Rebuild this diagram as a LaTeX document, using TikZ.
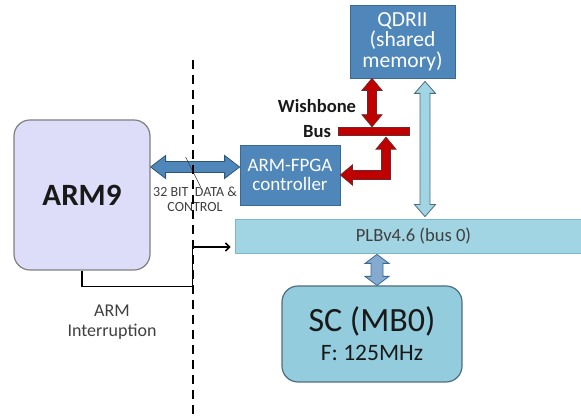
\documentclass[tikz,border=0pt]{standalone}
\usepackage{fontspec}
\setmainfont{Carlito}
\usetikzlibrary{calc,arrows.meta}
\definecolor{steel}{HTML}{4F87BA}
\definecolor{steeldark}{HTML}{3A6A94}
\definecolor{aqua}{HTML}{93CDDD}
\definecolor{aquadark}{HTML}{4E6D7C}
\definecolor{plbfill}{HTML}{A2D5E3}
\definecolor{plbdraw}{HTML}{7CB8CA}
\definecolor{lavender}{HTML}{DEDDF9}
\definecolor{wbred}{HTML}{C00000}
\definecolor{wbdark}{HTML}{6E2A2A}
\definecolor{txtgray}{HTML}{404040}
\tikzset{
    box/.style={
        draw=steeldark, fill=steel, text=white, line width=0.8pt,
        align=center, inner sep=0pt
    },
    armbox/.style={
        draw=gray, fill=lavender, line width=1.2pt, rounded corners=16pt,
        minimum width=136pt, minimum height=150pt,
        font=\fontsize{31}{33}\selectfont\bfseries, text=black!90
    },
    scbox/.style={
        draw=aquadark, fill=aqua, line width=1.2pt, rounded corners=16pt,
        minimum width=180pt, minimum height=96pt, align=center,
        text=black!90
    },
    plbbox/.style={
        draw=plbdraw, fill=plbfill, line width=0.8pt,
        minimum width=357pt, minimum height=34pt,
        font=\fontsize{18.6}{20}\selectfont, text=txtgray
    },
    wbbar/.style={
        draw=wbdark, fill=wbred, line width=0.5pt,
        minimum width=71pt, minimum height=8pt, inner sep=0pt
    },
    label/.style={
        align=center, text=txtgray
    },
    fatarrow/.style={
        line width=0.8pt, line join=miter
    },
    divider/.style={
        line width=2.5pt, dash pattern=on 9pt off 6pt
    },
    irqline/.style={
        line width=1.6pt, -{Straight Barb[length=4pt, width=8pt]}
    }
}
% fat double arrows: style, from, to, head length, head half width, shaft half width
\newcommand{\vfatarrow}[6]{%
    \filldraw [fatarrow, #1] (#2) -- ++(#5,-#4) -- ++(-#5+#6,0) -- ($(#3)+(#6,#4)$)
        -- ++(#5-#6,0) -- (#3) -- ++(-#5,#4) -- ++(#5-#6,0) -- ($(#2)+(-#6,-#4)$)
        -- ++(-#5+#6,0) -- cycle;
}
\newcommand{\hfatarrow}[6]{%
    \filldraw [fatarrow, #1] (#2) -- ++(#4,#5) -- ++(0,-#5+#6) -- ($(#3)+(-#4,#6)$)
        -- ++(0,#5-#6) -- (#3) -- ++(-#4,-#5) -- ++(0,#5-#6) -- ($(#2)+(#4,-#6)$)
        -- ++(0,-#5+#6) -- cycle;
}

\begin{document}
\begin{tikzpicture}[x=1pt, y=1pt]
    \useasboundingbox (0,0) rectangle (581,419);
    % Boxes:
    \node (arm) [armbox] at (82,224) {ARM9};
    \node (ctrl) [box, minimum width=100pt, minimum height=60pt,
        font=\fontsize{19}{18.5}\selectfont] at (290,244) {ARM-FPGA\\controller};
    \node (qdr) [box, minimum width=105pt, minimum height=73pt,
        font=\fontsize{21.5}{20.5}\selectfont] at (402.5,377.5) {QDRII\\(shared\\memory)};
    \node (plb) [plbbox] at (413.5,183) {PLBv4.6 (bus 0)};
    \node (sc) [scbox] at (372,85) {\fontsize{34}{30}\selectfont SC (MB0)\\[8pt]
        \fontsize{23.5}{24}\selectfont F: 125MHz};
    \node (wb) [wbbar] at (373.5,288) {};
    \node (wblabel) [align=center, font=\fontsize{18.6}{25}\selectfont\bfseries,
        text=black!90] at (317,300) {Wishbone\\Bus};
    % ARM9 <-> ARM-FPGA controller:
    \hfatarrow{draw=steeldark!80!black, fill=steel}{$(arm.east)+(0,28)$}{$(ctrl.west)+(0,8)$}{15}{11.5}{5.5}
    \draw [line width=0.6pt, txtgray] ($(arm.east)+(35,38)$) coordinate (slashtop)
        -- ($(arm.east)+(50,8)$) coordinate (slashbot);
    \node (buslabel) [label, font=\fontsize{14}{15.5}\selectfont] at (195,219.5)
        {32 BIT\ \ DATA \&\\CONTROL};
    % Wishbone bus:
    \vfatarrow{draw=wbdark, fill=wbred}{$(qdr.south)+(-30.5,0)$}{$(wb.north)+(-1.5,0)$}{12}{10}{4.5}
    \coordinate (wbup) at ($(wb.south)+(12.5,-2)$);
    \coordinate (wbturn) at (wbup |- ctrl.east);
    \filldraw [fatarrow, draw=wbdark, fill=wbred] (wbup) -- ++(10,-12) -- ++(-5.5,0)
        -- ($(wbturn)+(4.5,-4.5)$) -- ($(ctrl.east)+(12,-4.5)$) -- ++(0,-5.5) -- (ctrl.east)
        -- ++(12,10) -- ++(0,-5.5) -- ($(wbturn)+(-4.5,4.5)$) -- ($(wbup)+(-4.5,-12)$)
        -- ++(-5.5,0) -- cycle;
    % QDRII <-> PLB:
    \vfatarrow{draw=aquadark, fill=plbfill}{$(qdr.south)+(22.5,-3)$}{$(plb.north)+(11.5,2)$}{12}{10.5}{5}
    % PLB <-> SC:
    \coordinate (scup) at ($(sc.north)+(5,0)$);
    \vfatarrow{draw=steeldark, fill=steel!70!white}{$(scup |- plb.south)+(0,-1)$}{scup}{9}{12}{6}
    % Interruption:
    \coordinate (irqin) at ($(plb.west)+(-4,-11)$);
    \draw [irqline] (arm.south) -- ++(0,-16) -| ($(irqin)+(-38,0)$) -- (irqin);
    \node (irqlabel) [label, font=\fontsize{18}{20}\selectfont] at (112,97) {ARM\\Interruption};
    % Divider:
    \coordinate (divtop) at (193,359);
    \coordinate (divbot) at (193,0);
    \draw [divider] (divtop) -- (divbot);
\end{tikzpicture}
\end{document}
